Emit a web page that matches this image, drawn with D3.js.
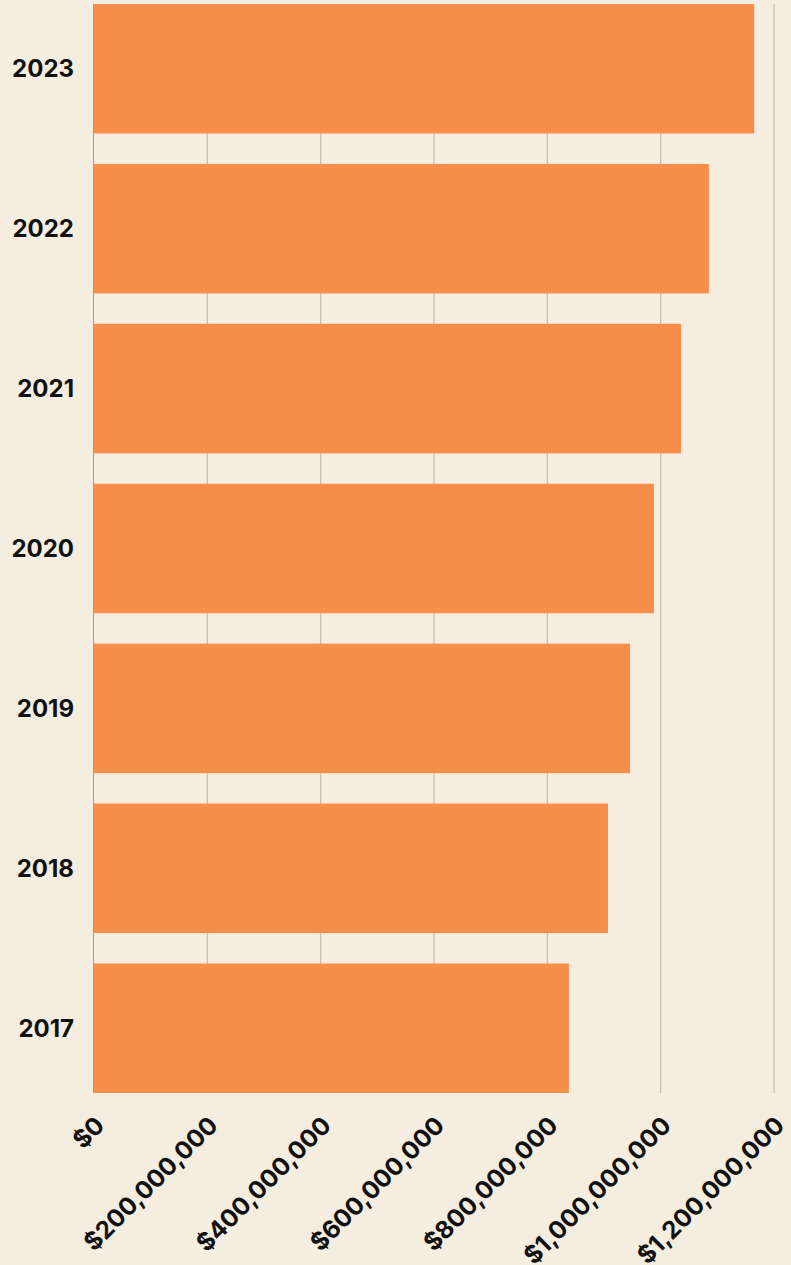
<!DOCTYPE html>
<html>
<head>
<meta charset="utf-8">
<script src="https://cdn.jsdelivr.net/npm/d3@7"></script>
<style>
  html, body { margin: 0; padding: 0; background: #f5eee0; }
  svg { display: block; }
</style>
</head>
<body>
<svg id="chart" width="791" height="1265"></svg>
<script>
// values (USD)
const years = ["2023", "2022", "2021", "2020", "2019", "2018", "2017"];
const amounts = [1165e6, 1085e6, 1036e6, 988e6, 946e6, 907e6, 838e6];
const tickValues = [0, 200e6, 400e6, 600e6, 800e6, 1000e6, 1200e6];

const data = years.map((y, i) => ({ year: y, val: amounts[i] }));

const svg = d3.select("#chart");
const width = +svg.attr("width");
const height = +svg.attr("height");
const margin = { top: 4, right: 17, bottom: 172, left: 94 };

svg.append("rect")
    .attr("width", width)
    .attr("height", height)
    .attr("fill", "#f5eee0");

const x = d3.scaleLinear()
    .domain([0, 1.2e9])
    .range([margin.left, width - margin.right]);

const y = d3.scaleBand()
    .domain(years)
    .range([margin.top, height - margin.bottom])
    .paddingInner(0.19)
    .paddingOuter(0);

const fmt = d => "$" + d3.format(",")(d);

// grid lines
svg.append("g")
    .selectAll("line")
    .data(tickValues.slice(1))
    .enter()
    .append("line")
    .attr("x1", d => x(d))
    .attr("x2", d => x(d))
    .attr("y1", margin.top)
    .attr("y2", height - margin.bottom)
    .attr("stroke", "#c9c1b5")
    .attr("stroke-width", 1.4);

// bars
svg.append("g")
    .selectAll("rect")
    .data(data)
    .enter()
    .append("rect")
    .attr("x", x(0))
    .attr("y", d => y(d.year))
    .attr("width", d => x(d.val) - x(0))
    .attr("height", y.bandwidth())
    .attr("fill", "#f78e49");

// left axis line
svg.append("line")
    .attr("x1", x(0) - 0.5)
    .attr("x2", x(0) - 0.5)
    .attr("y1", margin.top)
    .attr("y2", height - margin.bottom)
    .attr("stroke", "#a39d94")
    .attr("stroke-width", 1);

// year labels
svg.append("g")
    .selectAll("text")
    .data(data)
    .enter()
    .append("text")
    .attr("x", x(0) - 20)
    .attr("y", d => y(d.year) + y.bandwidth() / 2)
    .attr("dy", "0.36em")
    .attr("text-anchor", "end")
    .style("font-family", "Inter, 'Open Sans', sans-serif")
    .style("font-weight", 700)
    .style("font-size", "24px")
    .attr("fill", "#111")
    .text(d => d.year);

// x tick labels, rotated
const axisY = height - margin.bottom;
svg.append("g")
    .selectAll("text")
    .data(tickValues)
    .enter()
    .append("text")
    .attr("transform", d => `translate(${x(d) + 12},${axisY + 34}) rotate(-45)`)
    .attr("text-anchor", "end")
    .style("font-family", "Inter, 'Open Sans', sans-serif")
    .style("font-weight", 700)
    .style("font-size", "24.5px")
    .attr("fill", "#111")
    .text(fmt);
</script>
</body>
</html>
